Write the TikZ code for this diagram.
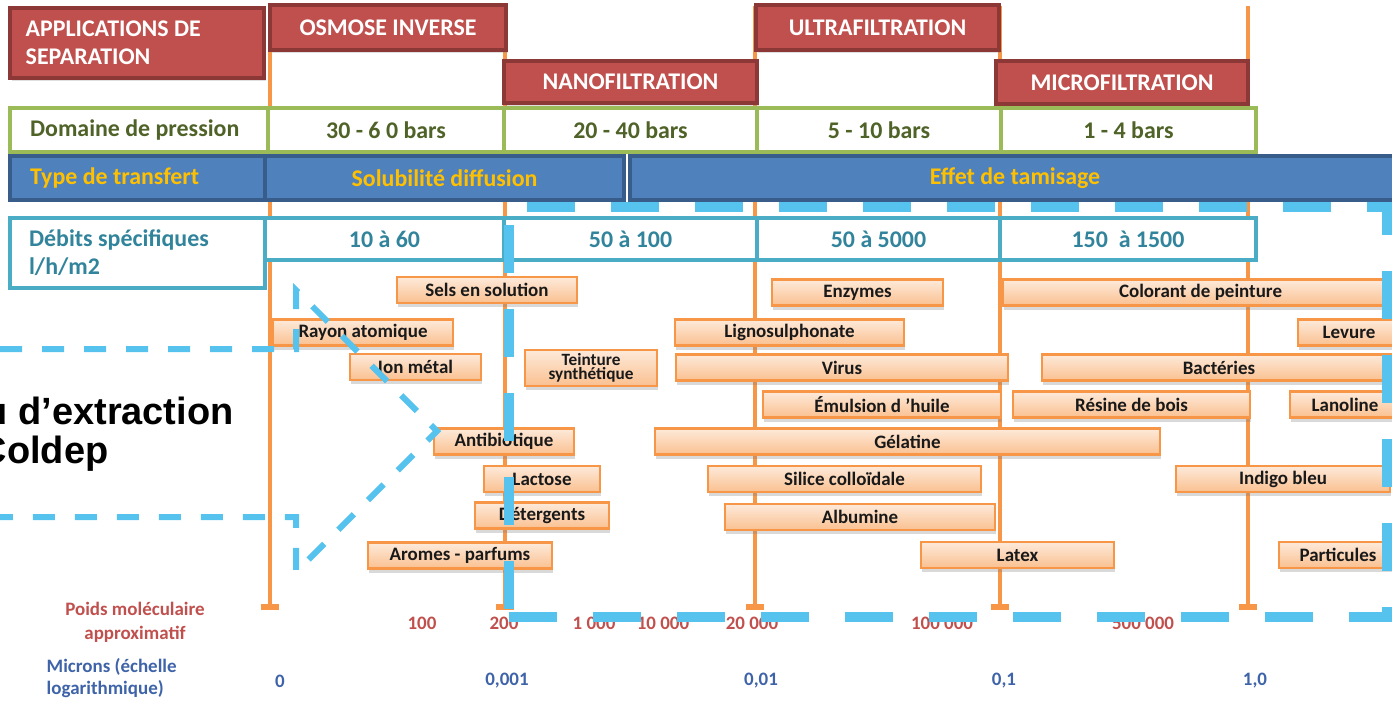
\documentclass[tikz,border=0pt]{standalone}
\usepackage{fontspec}
\setmainfont{Carlito}
\newfontfamily\arialfont{Liberation Sans}
\usepackage{xcolor}
\definecolor{apred}{RGB}{192,80,77}
\definecolor{apredline}{RGB}{140,56,54}
\definecolor{apgreen}{RGB}{155,187,89}
\definecolor{apgreentext}{RGB}{79,98,40}
\definecolor{apblue}{RGB}{79,129,189}
\definecolor{apblueline}{RGB}{56,93,138}
\definecolor{apgold}{RGB}{255,192,0}
\definecolor{apteal}{RGB}{75,172,198}
\definecolor{aptealtext}{RGB}{49,132,155}
\definecolor{aporange}{RGB}{247,150,70}
\definecolor{appeachtop}{RGB}{253,234,218}
\definecolor{appeachbot}{RGB}{250,192,144}
\definecolor{apcyan}{RGB}{86,194,238}
\definecolor{apmicron}{RGB}{62,99,168}
\usetikzlibrary{arrows.meta, positioning, shadows}

\begin{document}
\begin{tikzpicture}[
  redbox/.style={draw=apredline, fill=apred, line width=1pt, inner sep=0pt, text=white,
    font=\fontsize{6.8}{8}\selectfont\bfseries,
    drop shadow={shadow xshift=0.6pt, shadow yshift=-0.8pt, opacity=0.25}},
  redtext/.style={inner sep=0pt, text=white, font=\fontsize{6.8}{8}\selectfont\bfseries},
  presscell/.style={draw=apgreen, fill=white, line width=1.2pt, minimum height=0.44cm, inner sep=0pt,
    text=apgreentext, font=\fontsize{6.8}{8}\selectfont\bfseries},
  transcell/.style={draw=apblueline, fill=apblue, line width=1.2pt, minimum height=0.44cm, inner sep=0pt,
    text=apgold, font=\fontsize{6.8}{8}\selectfont\bfseries},
  debitcell/.style={draw=apteal, fill=white, line width=1.2pt, minimum height=0.42cm, inner sep=0pt,
    text=aptealtext, font=\fontsize{6.8}{8}\selectfont\bfseries},
  item/.style={draw=aporange, top color=appeachtop, bottom color=appeachbot, line width=0.7pt,
    minimum height=0.26cm, inner sep=0pt, text=black!90, font=\fontsize{5.4}{6}\selectfont\bfseries,
    drop shadow={shadow xshift=0.4pt, shadow yshift=-1.2pt, opacity=0.3}},
  scaleline/.style={aporange, line width=1.4pt, -{Rectangle[length=1.6pt,width=5pt]}},
  mwlabel/.style={text=apred, font=\fontsize{5.4}{6.8}\selectfont\bfseries, inner sep=0pt},
  mulabel/.style={text=apmicron, font=\fontsize{5.4}{6.2}\selectfont\bfseries, inner sep=0pt},
  zoomframe/.style={draw=apcyan, line width=0.10cm, dash pattern=on 0.48cm off 0.36cm, dash phase=0.66cm},
  callout/.style={draw=apcyan, line width=0.06cm, dash pattern=on 0.22cm off 0.20cm, dash phase=0.34cm},
  extrtext/.style={font=\arialfont\bfseries\fontsize{10.8}{12}\selectfont, inner sep=0pt}
]
  \useasboundingbox (0,0) rectangle (13.92,7.00);

  % Scale lines
  \draw[scaleline] (2.70,6.94) -- (2.70,0.90);
  \draw[scaleline] (5.05,6.94) -- (5.05,0.90);
  \draw[scaleline] (7.55,6.94) -- (7.55,0.90);
  \draw[scaleline] (10.00,6.94) -- (10.00,0.90);
  \draw[scaleline] (12.48,6.94) -- (12.48,0.90);

  % --- Separation processes ---
  \node[redbox, minimum width=2.54cm, minimum height=0.70cm] (appli) at (1.37,6.57) {};
  \node[redtext, anchor=west, align=left] (appliTxt) at (0.25,6.57) {APPLICATIONS DE\\SEPARATION};
  \node[redbox, minimum width=2.36cm, minimum height=0.45cm] (osmose) at (3.88,6.725) {OSMOSE INVERSE};
  \node[redbox, minimum width=2.53cm, minimum height=0.42cm] (nano) at (6.305,6.18) {NANOFILTRATION};
  \node[redbox, minimum width=2.43cm, minimum height=0.45cm] (ultra) at (8.775,6.725) {ULTRAFILTRATION};
  \node[redbox, minimum width=2.52cm, minimum height=0.43cm] (micro) at (11.22,6.175) {MICROFILTRATION};

  % --- Pressure ---
  \node[presscell, minimum width=2.58cm] (pressLab) at (1.39,5.70) {};
  \node[presscell, draw=none, fill=none, anchor=west] (pressTxt) at (0.28,5.70) {Domaine de pression};
  \node[presscell, minimum width=2.36cm] (press1) at (3.86,5.70) {30 - 6 0 bars};
  \node[presscell, minimum width=2.53cm] (press2) at (6.305,5.70) {20 - 40 bars};
  \node[presscell, minimum width=2.44cm] (press3) at (8.79,5.70) {5 - 10 bars};
  \node[presscell, minimum width=2.55cm] (press4) at (11.285,5.70) {1 - 4 bars};

  % --- Transfer ---
  \node[transcell, minimum width=2.55cm] (transLab) at (1.375,5.22) {};
  \node[transcell, draw=none, fill=none, anchor=west] (transTxt) at (0.28,5.22) {Type de transfert};
  \node[transcell, minimum width=3.59cm] (trans1) at (4.445,5.22) {Solubilité diffusion};
  \node[transcell, minimum width=7.70cm] (trans2) at (10.15,5.22) {Effet de tamisage};

  % --- Flux ---
  \node[debitcell, minimum width=2.55cm, minimum height=0.70cm] (debitLab) at (1.375,4.47) {};
  \node[debitcell, draw=none, fill=none, anchor=west, align=left] (debitTxt) at (0.27,4.47) {Débits spécifiques\\l/h/m2};
  \node[debitcell, minimum width=2.39cm] (debit1) at (3.845,4.61) {10 à 60};
  \node[debitcell, minimum width=2.53cm] (debit2) at (6.305,4.61) {50 à 100};
  \node[debitcell, minimum width=2.43cm] (debit3) at (8.785,4.61) {50 à 5000};
  \node[debitcell, minimum width=2.56cm] (debit4) at (11.28,4.61) {150\ \ à 1500};

  % --- Substances ---
  \node[item, minimum width=1.80cm] (sels) at (4.87,4.10) {Sels en solution};
  \node[item, minimum width=1.80cm] (rayon) at (3.63,3.675) {Rayon atomique};
  \node[item, minimum width=1.31cm] (ion) at (4.155,3.33) {Ion métal};
  \node[item, minimum width=1.32cm, minimum height=0.36cm, align=center, font=\fontsize{4.9}{4.1}\selectfont\bfseries] (teinture) at (5.91,3.32) {Teinture\\synthétique};
  \node[item, minimum width=1.40cm] (antibio) at (5.04,2.585) {Antibiotique};
  \node[item, minimum width=1.16cm] (lactose) at (5.42,2.21) {Lactose};
  \node[item, minimum width=1.34cm] (deterg) at (5.42,1.845) {Détergents};
  \node[item, minimum width=1.84cm] (aromes) at (4.60,1.445) {Aromes - parfums};
  \node[item, minimum width=1.71cm] (enzymes) at (8.575,4.075) {Enzymes};
  \node[item, minimum width=3.95cm] (colorant) at (12.005,4.075) {Colorant de peinture};
  \node[item, minimum width=2.29cm] (ligno) at (7.895,3.675) {Lignosulphonate};
  \node[item, minimum width=1.02cm] (levure) at (13.49,3.675) {Levure};
  \node[item, minimum width=3.32cm] (virus) at (8.42,3.325) {Virus};
  \node[item, minimum width=3.54cm] (bacteries) at (12.19,3.325) {Bactéries};
  \node[item, minimum width=2.38cm] (emulsion) at (8.82,2.955) {Émulsion d 'huile};
  \node[item, minimum width=2.37cm] (resine) at (11.315,2.955) {Résine de bois};
  \node[item, minimum width=1.10cm] (lanoline) at (13.45,2.955) {Lanoline};
  \node[item, minimum width=5.05cm] (gelatine) at (9.075,2.585) {Gélatine};
  \node[item, minimum width=2.73cm] (silice) at (8.445,2.21) {Silice colloïdale};
  \node[item, minimum width=2.14cm] (indigo) at (12.83,2.21) {Indigo bleu};
  \node[item, minimum width=2.70cm] (albumine) at (8.60,1.83) {Albumine};
  \node[item, minimum width=1.93cm] (latex) at (10.175,1.45) {Latex};
  \node[item, minimum width=1.18cm] (particules) at (13.38,1.45) {Particules};

  % --- Molecular weight scale ---
  \node[mwlabel, align=center] (mwTitle) at (1.35,0.78) {Poids moléculaire\\approximatif};
  \node[mwlabel] (mw100) at (4.22,0.77) {100};
  \node[mwlabel] (mw200) at (5.04,0.77) {200};
  \node[mwlabel] (mw1k) at (5.94,0.77) {1 000};
  \node[mwlabel] (mw10k) at (6.63,0.77) {10 000};
  \node[mwlabel] (mw20k) at (7.52,0.77) {20 000};
  \node[mwlabel] (mw100k) at (9.42,0.77) {100 000};
  \node[mwlabel] (mw500k) at (11.43,0.77) {500 000};

  % --- Micron scale ---
  \node[mulabel, anchor=west, align=left] (muTitle) at (0.46,0.22) {Microns (échelle\\logarithmique)};
  \node[mulabel] (mu0) at (2.80,0.19) {0};
  \node[mulabel] (mu1) at (5.07,0.19) {0,001};
  \node[mulabel] (mu2) at (7.61,0.19) {0,01};
  \node[mulabel] (mu3) at (10.04,0.19) {0,1};
  \node[mulabel] (mu4) at (12.55,0.19) {1,0};

  % Zoom frame
  \coordinate (frameNW) at (5.09,4.93);
  \coordinate (frameNE) at (13.87,4.93);
  \coordinate (frameSE) at (13.87,0.83);
  \coordinate (frameSW) at (5.09,0.83);
  \draw[zoomframe] (frameNW) -- (frameNE) -- (frameSE) -- (frameSW);
  \draw[zoomframe] (frameNW) -- (frameSW);

  % Callout
  \draw[callout] (-0.5,3.51) -- (2.96,3.51) -- (2.96,4.10) -- (4.37,2.69) -- (2.96,1.28) -- (2.96,1.83) -- (-0.5,1.83);
  \node[extrtext, anchor=base west] (extr1) at (-0.16,2.76) {u d’extraction};
  \node[extrtext, anchor=base west] (extr2) at (-0.21,2.37) {Coldep};
\end{tikzpicture}
\end{document}
